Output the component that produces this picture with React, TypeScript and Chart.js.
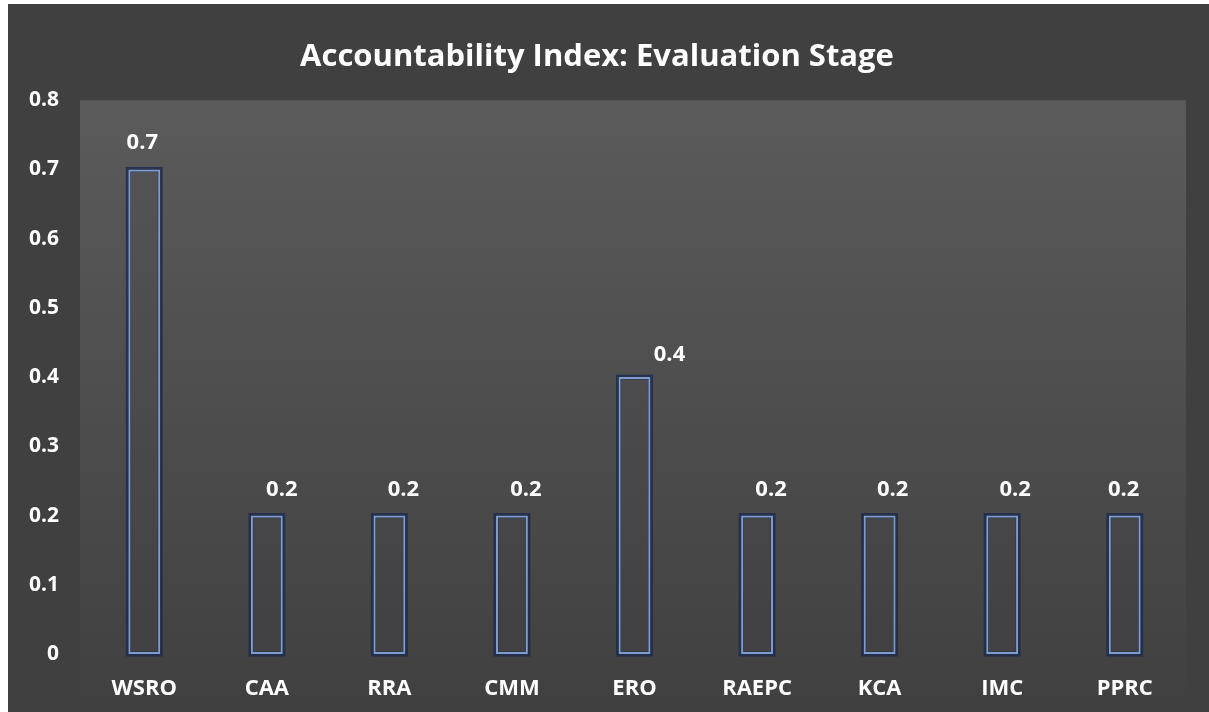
import React, { useEffect, useRef } from "react";
import { Chart, registerables } from "chart.js";

Chart.register(...registerables);

const categories = ["WSRO", "CAA", "RRA", "CMM", "ERO", "RAEPC", "KCA", "IMC", "PPRC"];
const values = [0.7, 0.2, 0.2, 0.2, 0.4, 0.2, 0.2, 0.2, 0.2];
const yTickLabels = ["0", "0.1", "0.2", "0.3", "0.4", "0.5", "0.6", "0.7", "0.8"];
const titleText = "Accountability Index: Evaluation Stage";

// label placement offsets (style)
const labelDx = [-2, 15, 14, 14, 35, 14, 13, 13, -1];
const labelDy = [-27, -26, -26, -26, -22, -26, -26, -26, -26];

const FONT = "'Open Sans', 'DejaVu Sans', sans-serif";

const plotBgPlugin = {
  id: "plotBg",
  beforeDraw(chart: any) {
    const { ctx, chartArea } = chart;
    const x0 = chartArea.left - 3;
    const y0 = chartArea.top;
    const x1 = chartArea.right;
    const y1 = chart.height;
    const g = ctx.createLinearGradient(0, y0, 0, y1);
    g.addColorStop(0, "#5b5b5b");
    g.addColorStop(1, "#404040");
    ctx.save();
    ctx.fillStyle = g;
    ctx.fillRect(x0, y0, x1 - x0, y1 - y0);
    ctx.restore();
  },
};

const labelPlugin = {
  id: "valueLabels",
  afterDatasetsDraw(chart: any) {
    const { ctx } = chart;
    const meta = chart.getDatasetMeta(0);
    ctx.save();
    ctx.fillStyle = "#ffffff";
    ctx.font = `bold 22px ${FONT}`;
    ctx.textAlign = "center";
    ctx.textBaseline = "middle";
    meta.data.forEach((bar: any, i: number) => {
      const v = chart.data.datasets[0].data[i];
      ctx.fillText(String(v), bar.x + labelDx[i], bar.y + labelDy[i]);
    });
    ctx.restore();
  },
};

const barShadowPlugin = {
  id: "barShadow",
  beforeDatasetsDraw(chart: any) {
    const { ctx } = chart;
    const meta = chart.getDatasetMeta(0);
    ctx.save();
    ctx.strokeStyle = "rgba(25,40,75,0.75)";
    ctx.lineWidth = 5;
    meta.data.forEach((bar: any) => {
      const w = bar.width;
      ctx.strokeRect(bar.x - w / 2, bar.y, w, bar.base - bar.y);
    });
    ctx.restore();
  },
};

export default function App() {
  const ref = useRef<HTMLCanvasElement | null>(null);
  useEffect(() => {
    if (!ref.current) return;
    const chart = new Chart(ref.current, {
      type: "bar",
      data: {
        labels: categories,
        datasets: [
          {
            data: values,
            backgroundColor: "rgba(60,60,75,0.15)",
            borderColor: "#7f9ccc",
            borderWidth: 2,
            borderSkipped: false,
            barPercentage: 0.26,
            categoryPercentage: 1,
          },
        ],
      },
      options: {
        animation: false,
        responsive: false,
        maintainAspectRatio: false,
        layout: { padding: { left: 0, right: 23, top: 0, bottom: 0 } },
        plugins: {
          legend: { display: false },
          tooltip: { enabled: false },
          title: {
            display: true,
            text: titleText,
            color: "#ffffff",
            font: { family: FONT, size: 31, weight: "bold" },
            padding: { top: 35, bottom: 24 },
          },
        },
        scales: {
          x: {
            grid: { display: false, drawTicks: false },
            border: { display: false },
            ticks: {
              color: "#ffffff",
              font: { family: FONT, size: 22, weight: "bold" },
              padding: 22,
              maxRotation: 0,
              autoSkip: false,
            },
            afterFit(scale: any) {
              scale.height = 58;
            },
          },
          y: {
            min: 0,
            max: 0.8,
            grid: { display: false, drawTicks: false },
            border: { display: false },
            ticks: {
              stepSize: 0.1,
              color: "#ffffff",
              font: { family: FONT, size: 21, weight: "bold" },
              padding: 24,
              callback: (_v: any, i: number) => yTickLabels[i],
            },
            afterFit(scale: any) {
              scale.width = 75;
            },
          },
        },
      },
      plugins: [plotBgPlugin, barShadowPlugin, labelPlugin],
    });
    return () => chart.destroy();
  }, []);

  return (
    <div style={{ position: "fixed", left: 0, top: 0, width: 1209, height: 712, background: "#ffffff" }}>
      <div style={{ position: "absolute", left: 8, top: 4, width: 1201, height: 708, background: "#404040" }}>
        <canvas ref={ref} width={1201} height={708} style={{ display: "block" }} />
      </div>
    </div>
  );
}
